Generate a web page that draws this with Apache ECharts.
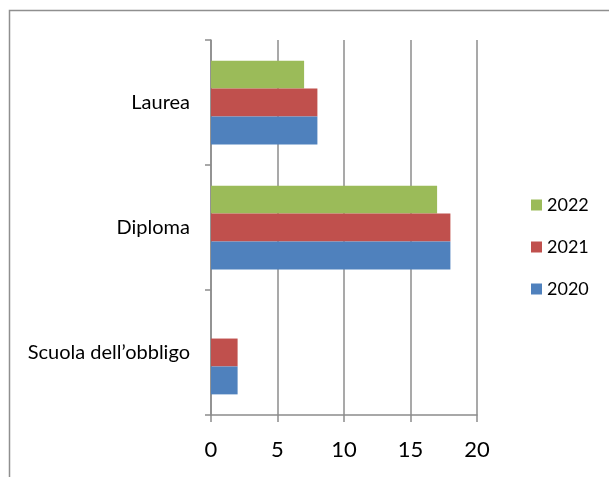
<!DOCTYPE html>
<html>
<head>
<meta charset="utf-8">
<script src="https://cdn.jsdelivr.net/npm/echarts@6/dist/echarts.min.js"></script>
<style>
    html, body { margin: 0; padding: 0; background: #fff; }
    #chart { width: 609px; height: 477px; }
</style>
</head>
<body>
<div id="chart"></div>
<script>
    // categories from bottom to top
    var categories = ['Scuola dell\u2019obbligo', 'Diploma', 'Laurea'];
    var years = ['2022', '2021', '2020'];
    var values2022 = [0, 17, 7];
    var values2021 = [2, 18, 8];
    var values2020 = [2, 18, 8];
    var xTicks = [0, 5, 10, 15, 20];

    var colors = ['#9BBB59', '#C0504D', '#4F81BD'];
    var gray = '#8c8c8c';
    var font = 'Lato, "Open Sans", sans-serif';

    // first series is drawn at the top of each band
    var allValues = [values2022, values2021, values2020];
    var series = years.map(function (y, i) {
        return {
            name: y,
            type: 'bar',
            data: allValues[i],
            barGap: '0%',
            barCategoryGap: '33%',
            itemStyle: { color: colors[i] },
            animation: false
        };
    });

    var option = {
        animation: false,
        textStyle: { fontFamily: font },
        graphic: [{
            type: 'rect',
            shape: { x: 9.5, y: 10.5, width: 700, height: 600 },
            style: { fill: 'none', stroke: '#8f8f8f', lineWidth: 1.5 },
            silent: true
        }],
        grid: { left: 211, right: 132, top: 40, bottom: 62 },
        legend: {
            orient: 'vertical',
            left: 531,
            top: 195,
            padding: 0,
            data: ['2022', '2021', '2020'],
            icon: 'rect',
            itemWidth: 11,
            itemHeight: 11,
            itemGap: 22,
            textStyle: { fontSize: 18, lineHeight: 20, color: '#000', fontFamily: font }
        },
        xAxis: {
            type: 'value',
            min: xTicks[0],
            max: xTicks[xTicks.length - 1],
            interval: 5,
            axisLine: { show: true, lineStyle: { color: gray, width: 1.5 } },
            axisTick: { show: true, length: 7, lineStyle: { color: gray, width: 1.5 } },
            axisLabel: { fontSize: 22, color: '#000', margin: 24, fontFamily: font },
            splitLine: { show: true, lineStyle: { color: gray, width: 1.5 } }
        },
        yAxis: {
            type: 'category',
            data: categories,
            axisLine: { show: true, lineStyle: { color: gray, width: 1.5 } },
            axisTick: { show: true, length: 6, lineStyle: { color: gray, width: 1.5 } },
            axisLabel: { fontSize: 20, color: '#000', margin: 21, fontFamily: font },
            splitLine: { show: false }
        },
        series: series
    };

    var chart = echarts.init(document.getElementById('chart'), null, { renderer: 'canvas' });
    chart.setOption(option);
</script>
</body>
</html>
